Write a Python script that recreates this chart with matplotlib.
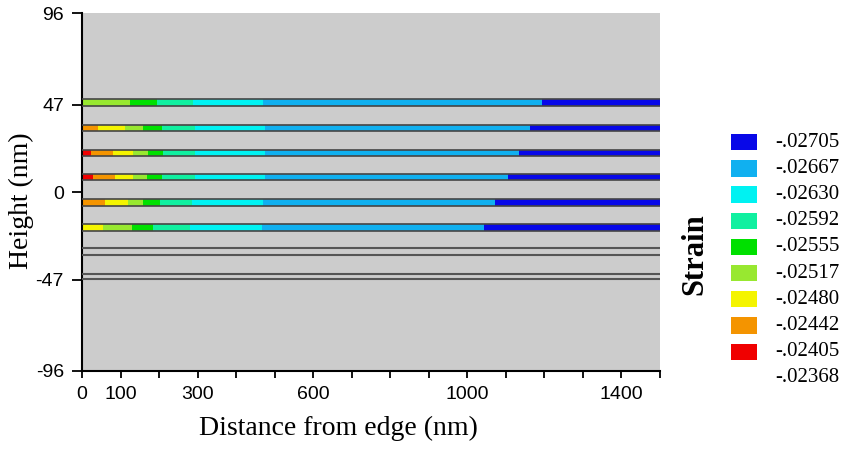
import matplotlib.pyplot as plt
import numpy as np

# strain levels (legend), blue = most compressive ... red
LEVELS = ['-.02705', '-.02667', '-.02630', '-.02592', '-.02555',
          '-.02517', '-.02480', '-.02442', '-.02405', '-.02368']
LEVEL_COLORS = ['#0808e8', '#10b0f0', '#00f2f2', '#10f0a0', '#00e000',
                '#98e830', '#f4f400', '#f49400', '#f00000']

# centre height of each strained layer (nm), top to bottom
LAYER_Y = [48.1, 34.4, 21.0, 8.1, -5.6, -19.0]

# colour boundaries along each layer (nm from edge)
LAYER_EDGES = [
    [0, 125, 194, 289, 471, 1194, 1500],
    [0, 42, 112, 159, 207, 293, 475, 1163, 1500],
    [0, 23, 81, 133, 172, 211, 293, 475, 1135, 1500],
    [0, 28, 86, 133, 168, 207, 293, 475, 1105, 1500],
    [0, 60, 120, 159, 203, 285, 471, 1073, 1500],
    [0, 55, 129, 185, 280, 467, 1042, 1500],
]
# level index (into LEVEL_COLORS) of each segment
LAYER_LEVELS = [
    [5, 4, 3, 2, 1, 0],
    [7, 6, 5, 4, 3, 2, 1, 0],
    [8, 7, 6, 5, 4, 3, 2, 1, 0],
    [8, 7, 6, 5, 4, 3, 2, 1, 0],
    [7, 6, 5, 4, 3, 2, 1, 0],
    [6, 5, 4, 3, 2, 1, 0],
]

# unstrained interfaces below the layers (nm)
GRAY_LINES_Y = [-30.1, -33.7, -44.1, -46.8]

X_TICKS = np.arange(0, 1501, 100)
X_LABELED = [0, 100, 300, 600, 1000, 1400]
Y_TICKS = [-96, -47, 0, 47, 96]

LAYER_H = 3.5


def main():
    fig = plt.figure(figsize=(8.41, 4.49), dpi=100)
    ax = fig.add_axes([82 / 841, 1 - 371 / 449, 578 / 841, 357.7 / 449])
    ax.set_facecolor('#cccccc')

    for y, edges, levels in zip(LAYER_Y, LAYER_EDGES, LAYER_LEVELS):
        edges = np.array(edges)
        ax.barh(y, np.diff(edges), left=edges[:-1], height=LAYER_H,
                color=[LEVEL_COLORS[i] for i in levels], linewidth=0, zorder=2)
        ax.hlines([y + LAYER_H / 2, y - LAYER_H / 2], 0, 1500,
                  color='#454545', linewidth=1.2, zorder=3)

    ax.hlines(GRAY_LINES_Y, 0, 1500, color='#555555', linewidth=1.5, zorder=3)

    ax.set_xlim(0, 1500)
    ax.set_ylim(-96, 96)
    ax.set_xticks(X_TICKS)
    ax.set_xticklabels([str(t) if t in X_LABELED else '' for t in X_TICKS])
    ax.set_yticks(Y_TICKS)
    ax.set_yticklabels([str(t) for t in Y_TICKS])

    for s in ['top', 'right']:
        ax.spines[s].set_visible(False)
    for s in ['left', 'bottom']:
        ax.spines[s].set_linewidth(1.5)
        ax.spines[s].set_color('black')
    ax.tick_params(axis='y', length=7, width=1.3, pad=6, labelsize=14,
                   labelfontfamily='Liberation Sans')
    ax.tick_params(axis='x', length=5, width=1.3, pad=6, labelsize=14,
                   labelfontfamily='Liberation Sans')

    ax.set_xlabel('Distance from edge (nm)', fontsize=20, family='Liberation Serif')
    ax.set_ylabel('Height (nm)', fontsize=20, family='Liberation Serif')
    ax.xaxis.set_label_coords(0.443, -0.125)
    ax.yaxis.set_label_coords(-0.083, 0.475)

    # strain legend
    lax = fig.add_axes([725 / 841, 1 - 385 / 449, 116 / 841, 255 / 449])
    lax.set_xlim(0, 1)
    lax.set_ylim(9.27, -0.466)
    lax.axis('off')
    idx = np.arange(len(LEVEL_COLORS))
    lax.bar(0.049, 0.62, width=0.224, bottom=idx - 0.31, align='edge',
            color=LEVEL_COLORS, linewidth=0)
    for i, lab in enumerate(LEVELS):
        lax.text(0.43, i, lab, fontsize=15, family='Liberation Serif',
                 ha='left', va='center')

    fig.text(695 / 841, 1 - 254 / 449, 'Strain', rotation=90, fontsize=22,
             fontweight='bold', family='Liberation Serif', ha='center', va='center')

    fig.savefig('out.png', dpi=100)
    plt.close(fig)


main()
